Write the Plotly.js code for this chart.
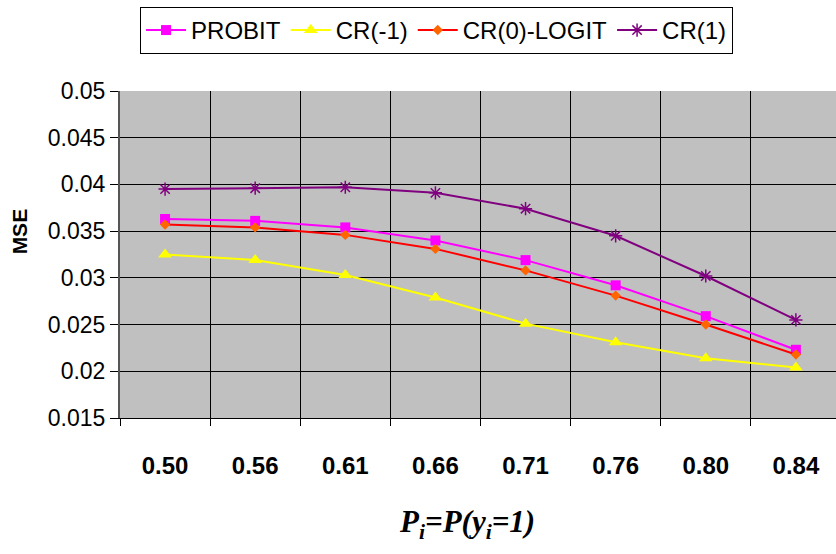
<!DOCTYPE html>
<html>
<head>
<meta charset="utf-8">
<script src="https://cdn.plot.ly/plotly-3.0.1.min.js"></script>
<style>html,body{margin:0;padding:0;background:#fff;}#chart{width:836px;height:554px;}</style>
</head>
<body>
<div id="chart"></div>
<script>
const categories = ["0.50", "0.56", "0.61", "0.66", "0.71", "0.76", "0.80", "0.84"];
const probit = [0.0363, 0.0361, 0.0354, 0.0340, 0.0319, 0.0292, 0.0259, 0.0223];
const crMinus1 = [0.0325, 0.0319, 0.0303, 0.0279, 0.0251, 0.0231, 0.0214, 0.0204];
const cr0Logit = [0.0357, 0.0354, 0.0346, 0.0331, 0.0308, 0.0281, 0.0250, 0.0218];
const cr1 = [0.0395, 0.0396, 0.0397, 0.0391, 0.0374, 0.0345, 0.0302, 0.0255];
const yTickVals = [0.015, 0.02, 0.025, 0.03, 0.035, 0.04, 0.045, 0.05];
const yTickText = ["0.015", "0.02", "0.025", "0.03", "0.035", "0.04", "0.045", "0.05"];

const traces = [
  {name: "PROBIT", x: categories, y: probit, type: "scatter", mode: "lines+markers",
   line: {color: "#ff00ff", width: 2}, marker: {symbol: "square", size: 10, color: "#ff00ff"}},
  {name: "CR(-1)", x: categories, y: crMinus1, type: "scatter", mode: "lines+markers",
   line: {color: "#ffff00", width: 2}, marker: {symbol: "triangle-up", size: 12, color: "#ffff00"}},
  {name: "CR(0)-LOGIT", x: categories, y: cr0Logit, type: "scatter", mode: "lines+markers",
   line: {color: "#ff0000", width: 2}, marker: {symbol: "diamond", size: 8, color: "#ff6600"}},
  {name: "CR(1)", x: categories, y: cr1, type: "scatter", mode: "lines+markers",
   line: {color: "#800080", width: 2}, marker: {symbol: "asterisk-open", size: 11, color: "#800080", line: {color: "#800080", width: 1.5}}}
];

const layout = {
  width: 836, height: 554,
  margin: {l: 120, r: 0, t: 91, b: 136},
  paper_bgcolor: "#ffffff",
  plot_bgcolor: "#c0c0c0",
  font: {family: "Liberation Sans, Arial, sans-serif", color: "#000"},
  showlegend: true,
  legend: {
    orientation: "h", x: 0.028, y: 1.257, xanchor: "left", yanchor: "top",
    bordercolor: "#000", borderwidth: 1, bgcolor: "#fff",
    font: {size: 24, family: "Liberation Sans, Arial, sans-serif", color: "#000"},
    itemwidth: 40, traceorder: "normal"
  },
  xaxis: {
    type: "category", range: [-0.5, 7.445], tickson: "boundaries",
    showgrid: true, gridcolor: "#000", gridwidth: 1,
    ticks: "outside", ticklen: 7, tickcolor: "#000",
    showline: true, linecolor: "#000", linewidth: 1,
    ticklabelstandoff: 26,
    tickfont: {size: 24, family: "Liberation Sans, Arial, sans-serif", weight: "bold"},
    zeroline: false, fixedrange: true
  },
  yaxis: {
    range: [0.015, 0.05], tickvals: yTickVals, ticktext: yTickText,
    showgrid: true, gridcolor: "#000", gridwidth: 1,
    ticks: "outside", ticklen: 8, tickcolor: "#000",
    showline: true, linecolor: "#555", linewidth: 2,
    tickfont: {size: 23, family: "Liberation Sans, Arial, sans-serif"},
    zeroline: false, fixedrange: true
  },
  annotations: [
    {text: "<b><i>P<sub>i</sub>=P(y<sub>i</sub>=1)</i></b>", xref: "paper", yref: "paper",
     x: 0.4846, y: -0.325, xanchor: "center", yanchor: "middle", showarrow: false,
     font: {size: 31, family: "Liberation Serif, Times New Roman, serif", color: "#000"}},
    {text: "<b>MSE</b>", xref: "paper", yref: "paper", x: -0.14, y: 0.57,
     xanchor: "center", yanchor: "middle", textangle: -90, showarrow: false,
     font: {size: 21, family: "Liberation Sans, Arial, sans-serif", color: "#000"}}
  ]
};

Plotly.newPlot("chart", traces, layout, {displayModeBar: false, staticPlot: true});
</script>
</body>
</html>
